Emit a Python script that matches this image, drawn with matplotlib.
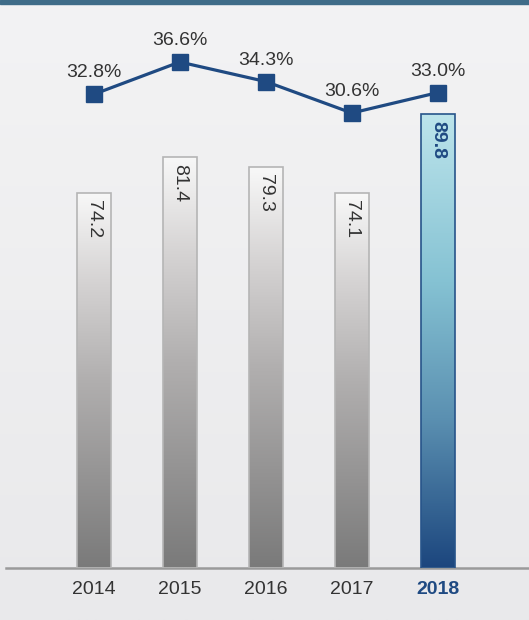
import numpy as np
import matplotlib
matplotlib.use("Agg")
import matplotlib.pyplot as plt
from matplotlib.colors import LinearSegmentedColormap
from matplotlib.patches import Rectangle
from matplotlib import font_manager

years = ["2014", "2015", "2016", "2017", "2018"]
values = [74.2, 81.4, 79.3, 74.1, 89.8]
pcts = [32.8, 36.6, 34.3, 30.6, 33.0]
pct_labels = ["32.8%", "36.6%", "34.3%", "30.6%", "33.0%"]

names = {f.name for f in font_manager.fontManager.ttflist}
FONT = "Liberation Sans Narrow" if "Liberation Sans Narrow" in names else "Liberation Sans"
FS = 15.5 if FONT == "Liberation Sans Narrow" else 14

W, H = 529, 620
fig = plt.figure(figsize=(W / 100, H / 100), dpi=100)
fig.patch.set_facecolor("#eeeeef")

bg = fig.add_axes([0, 0, 1, 1])
bg.axis("off")
grad = np.linspace(0, 1, 256).reshape(-1, 1)
bg.imshow(grad, aspect="auto", cmap=LinearSegmentedColormap.from_list("bg", ["#f3f3f4", "#e9e9eb"]),
          extent=[0, 1, 0, 1])
bg.set_xlim(0, 1)
bg.set_ylim(0, 1)
bg.add_patch(Rectangle((0, 1 - 4 / H), 1, 4 / H, color="#3f6c88", transform=bg.transAxes))

base_px = 568
ax = fig.add_axes([6 / W, (H - base_px) / H, 1 - 6 / W, base_px / H])
ax.patch.set_alpha(0)
scale = 5.055

width = 0.395
gray_cmap = LinearSegmentedColormap.from_list(
    "g", [(0, "#f8f8f8"), (0.23, "#d6d4d4"), (0.5, "#b1afaf"), (1, "#7a7a7a")])
blue_cmap = LinearSegmentedColormap.from_list(
    "b", [(0, "#bce4eb"), (0.37, "#85c2d3"), (0.67, "#5b90b1"), (1, "#1c467e")])
x = np.arange(len(years))
bars = ax.bar(x, values, width=width, color="none", zorder=3)
for i, (b, v) in enumerate(zip(bars, values)):
    last = i == len(values) - 1
    cmap = blue_cmap if last else gray_cmap
    im = ax.imshow(grad, aspect="auto", cmap=cmap,
                   extent=[b.get_x(), b.get_x() + width, 0, v], zorder=2)
    im.set_clip_path(b)
    b.set_edgecolor("#27548a" if last else "#b5b5b5")
    b.set_linewidth(1.2)
    ax.text(i, v - 7 / scale, f"{v:.1f}", rotation=-90, ha="center", va="top",
            fontsize=FS, family=FONT,
            color="#1f4a82" if last else "#333333",
            fontweight="bold" if last else "normal", zorder=4)
ax.set_xlim(-1.02, 5.06)
ax.set_ylim(0, 568 / scale)

ax2 = ax.twinx()
ax2.set_ylim(30.6 - (568 - 113) / 8.5, 30.6 + 113 / 8.5)
ax2.plot(x, pcts, color="#1f4a82", lw=2.3, marker="s", markersize=11.5, zorder=5)
for i, (p, lab) in enumerate(zip(pcts, pct_labels)):
    ax2.annotate(lab, (i, p), xytext=(0, 13), textcoords="offset pixels",
                 ha="center", va="bottom", fontsize=FS, family=FONT,
                 color="#333333")

for a in (ax, ax2):
    for s in a.spines.values():
        s.set_visible(False)
    a.set_yticks([])
ax.spines["bottom"].set_visible(True)
ax.spines["bottom"].set_color("#9a9a9a")
ax.spines["bottom"].set_linewidth(1.8)
ax.set_xticks(x)
ax.set_xticklabels(years, fontsize=FS, family=FONT, color="#333333")
ax.tick_params(axis="x", length=0, pad=9)
lab = ax.get_xticklabels()[-1]
lab.set_fontweight("bold")
lab.set_color("#1f4a82")

fig.savefig("out.png", dpi=100)
